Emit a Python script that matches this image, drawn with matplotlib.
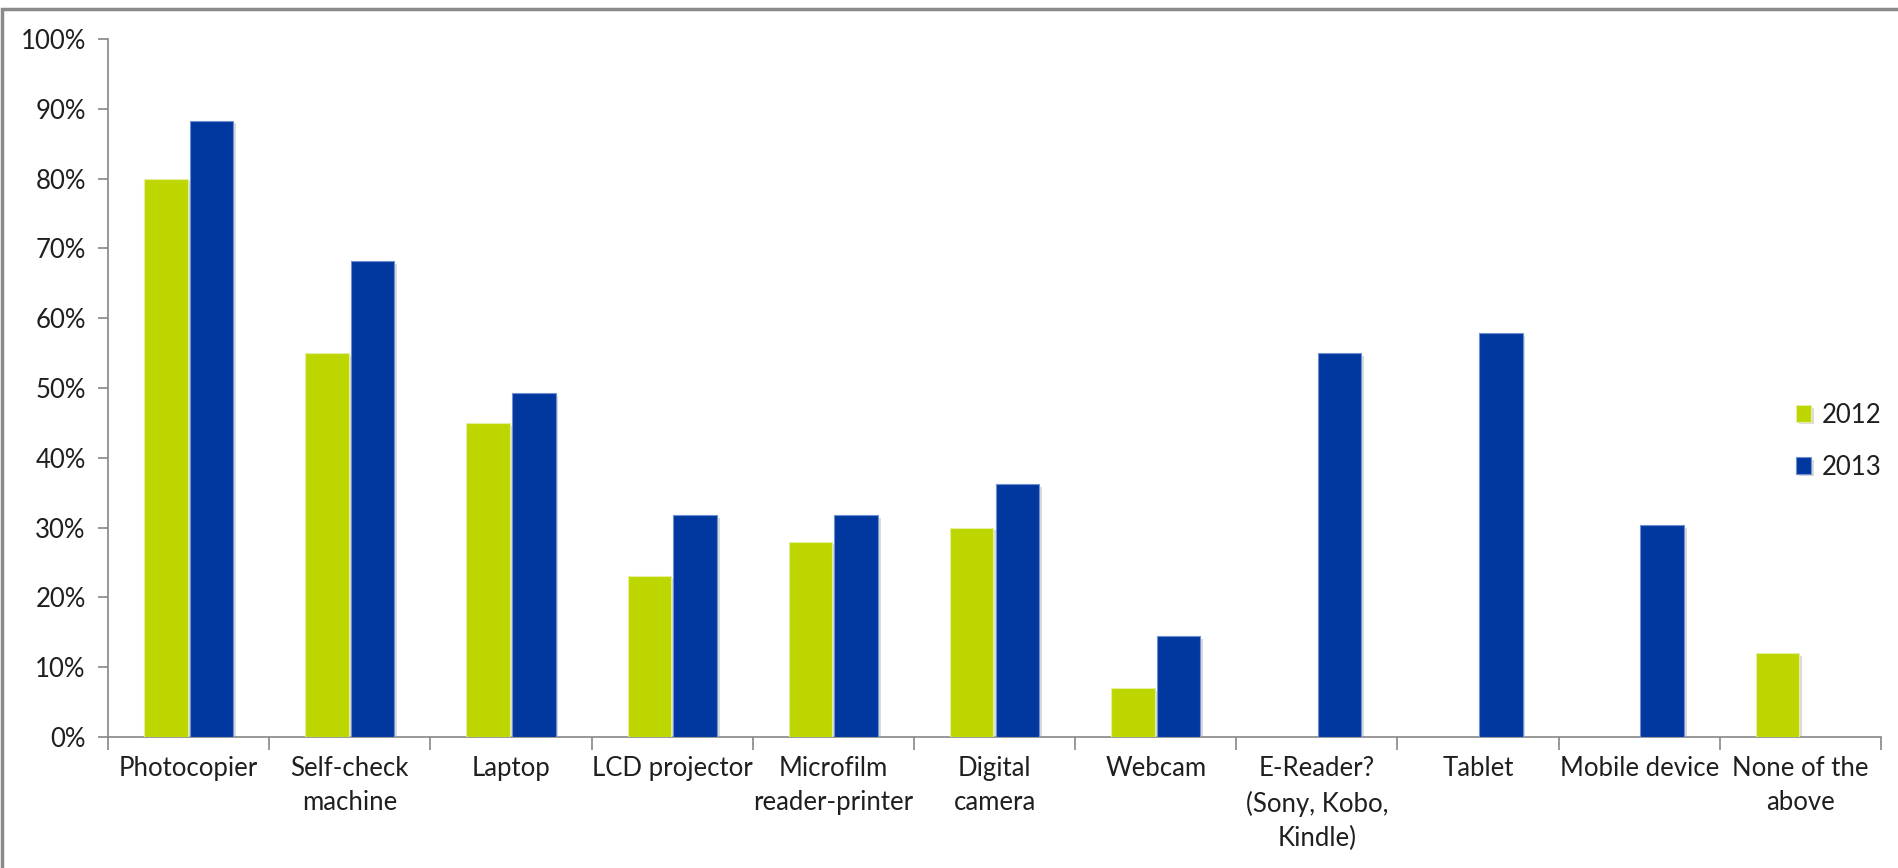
import matplotlib
matplotlib.use('Agg')
from matplotlib import pyplot as plt
from matplotlib import patheffects as pe
from matplotlib.patches import Rectangle
import numpy as np

plt.rcParams['font.family'] = ['Lato', 'DejaVu Sans']

# share of libraries offering each kind of equipment
categories = ['Photocopier', 'Self-check\nmachine', 'Laptop', 'LCD projector',
              'Microfilm\nreader-printer', 'Digital\ncamera', 'Webcam',
              'E-Reader?\n(Sony, Kobo,\nKindle)', 'Tablet', 'Mobile device',
              'None of the\nabove']
y2012 = [80, 55, 45, 23, 28, 30, 7, 0, 0, 0, 12]
y2013 = [88.3, 68.2, 49.3, 31.8, 31.8, 36.2, 14.5, 55, 57.9, 30.3, 0]
years = ['2012', '2013']
colors = ['#BED600', '#0038A0']

fig = plt.figure(figsize=(18.99, 8.68), dpi=100)
ax = fig.add_axes([0.0569, 0.151, 0.9336, 0.804])

x = np.arange(len(categories))
w = 0.27
off = 0.142
shadow = [pe.SimplePatchShadow(offset=(2, -2), shadow_rgbFace='#9a9a9a', alpha=0.35), pe.Normal()]

b1 = ax.bar(x - off, y2012, w, color=colors[0], edgecolor='#e4eea0', linewidth=0.8,
            label=years[0], zorder=3)
b2 = ax.bar(x + off, y2013, w, color=colors[1], edgecolor='#6f8fd0', linewidth=0.8,
            label=years[1], zorder=3)
for bars in (b1, b2):
    for r in bars:
        if r.get_height() > 0:
            r.set_path_effects(shadow)
        else:
            r.set_visible(False)

ax.set_xlim(-0.5, len(categories) - 0.5)
ax.set_ylim(0, 100)
ax.set_yticks(np.arange(0, 101, 10))
ax.set_yticklabels([f'{v}%' for v in range(0, 101, 10)])

# category separators as the x ticks
ax.set_xticks(np.arange(-0.5, len(categories), 1.0))
ax.set_xticklabels([])
ax.set_xticks(x, minor=True)
ax.set_xticklabels(categories, minor=True, fontsize=18.5, color='#1f1f1f',
                   linespacing=1.45, va='top')
ax.tick_params(axis='x', which='minor', length=0, pad=14)
ax.tick_params(axis='x', which='major', length=9, width=1.2, color='#868686', direction='out')
ax.tick_params(axis='y', length=7, width=1.2, color='#868686', labelsize=18.5,
               labelcolor='#1f1f1f', pad=9)

for s in ('top', 'right'):
    ax.spines[s].set_visible(False)
for s in ('left', 'bottom'):
    ax.spines[s].set_color('#868686')
    ax.spines[s].set_linewidth(1.2)

leg = ax.legend(loc='center left', bbox_to_anchor=(0.952, 0.424), frameon=False,
                fontsize=18.5, handlelength=0.6, handleheight=0.6,
                handletextpad=0.4, labelspacing=1.05, borderpad=0, borderaxespad=0)
for t in leg.get_texts():
    t.set_color('#1f1f1f')

# outer frame of the chart area
fig.patches.append(Rectangle((0.0012, -0.05), 1.1, 1.0396, transform=fig.transFigure,
                             fill=False, edgecolor='#8a8a8a', linewidth=2.5))

fig.savefig('out.png', dpi=100, facecolor='white')
